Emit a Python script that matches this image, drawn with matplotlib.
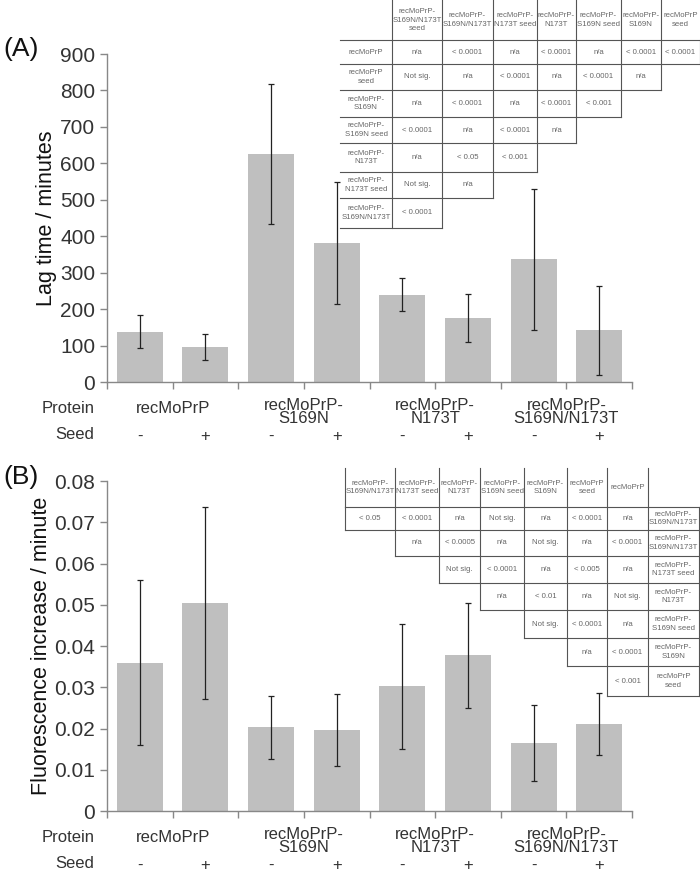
import numpy as np
import matplotlib
matplotlib.use("Agg")
import matplotlib.pyplot as plt
from matplotlib.lines import Line2D
from matplotlib.transforms import blended_transform_factory

plt.rcParams['font.family'] = ['Liberation Sans', 'DejaVu Sans']

# data
proteins = ["recMoPrP", "recMoPrP-\nS169N", "recMoPrP-\nN173T", "recMoPrP-\nS169N/N173T"]
seeds = ["-", "+", "-", "+", "-", "+", "-", "+"]

lag_mean = [138, 97, 625, 382, 240, 176, 337, 142]
lag_err = [46, 36, 192, 167, 46, 66, 193, 122]

fluor_mean = [0.0360, 0.0504, 0.0203, 0.0196, 0.0302, 0.0377, 0.0165, 0.0210]
fluor_err = [0.0200, 0.0232, 0.0077, 0.0087, 0.0152, 0.0128, 0.0093, 0.0075]

# p-value tables
tab_a_cols = ["recMoPrP-\nS169N/N173T\nseed", "recMoPrP-\nS169N/N173T", "recMoPrP-\nN173T seed",
              "recMoPrP-\nN173T", "recMoPrP-\nS169N seed", "recMoPrP-\nS169N", "recMoPrP\nseed"]
tab_a_rows = ["recMoPrP", "recMoPrP\nseed", "recMoPrP-\nS169N", "recMoPrP-\nS169N seed",
              "recMoPrP-\nN173T", "recMoPrP-\nN173T seed", "recMoPrP-\nS169N/N173T"]
tab_a_vals = [
    ["n/a", "< 0.0001", "n/a", "< 0.0001", "n/a", "< 0.0001", "< 0.0001"],
    ["Not sig.", "n/a", "< 0.0001", "n/a", "< 0.0001", "n/a"],
    ["n/a", "< 0.0001", "n/a", "< 0.0001", "< 0.001"],
    ["< 0.0001", "n/a", "< 0.0001", "n/a"],
    ["n/a", "< 0.05", "< 0.001"],
    ["Not sig.", "n/a"],
    ["< 0.0001"],
]

tab_b_cols = ["recMoPrP-\nS169N/N173T", "recMoPrP-\nN173T seed", "recMoPrP-\nN173T",
              "recMoPrP-\nS169N seed", "recMoPrP-\nS169N", "recMoPrP\nseed", "recMoPrP"]
tab_b_rows = ["recMoPrP-\nS169N/N173T", "recMoPrP-\nS169N/N173T", "recMoPrP-\nN173T seed",
              "recMoPrP-\nN173T", "recMoPrP-\nS169N seed", "recMoPrP-\nS169N", "recMoPrP\nseed"]
tab_b_vals = [
    ["< 0.05", "< 0.0001", "n/a", "Not sig.", "n/a", "< 0.0001", "n/a"],
    ["n/a", "< 0.0005", "n/a", "Not sig.", "n/a", "< 0.0001"],
    ["Not sig.", "< 0.0001", "n/a", "< 0.005", "n/a"],
    ["n/a", "< 0.01", "n/a", "Not sig."],
    ["Not sig.", "< 0.0001", "n/a"],
    ["n/a", "< 0.0001"],
    ["< 0.001"],
]

W, H = 700, 871
fig = plt.figure(figsize=(W / 100, H / 100), dpi=100)

txt_col = '#333333'
spine_col = '#888888'


def px(x, y):
    return x / W, 1 - y / H


def draw_panel(rect, means, errs, ymax, ystep, ylabel, yfmt, letter, letter_y):
    ax = fig.add_axes(rect)
    x = np.arange(len(means))
    ax.bar(x, means, width=0.7, color='#bfbfbf', zorder=2)
    ax.errorbar(x, means, yerr=errs, fmt='none', ecolor='#222222', elinewidth=0.9,
                capsize=2, capthick=0.9, zorder=3)
    ax.set_xlim(-0.5, len(means) - 0.5)
    ax.set_ylim(0, ymax)
    ticks = np.arange(0, ymax + ystep / 2, ystep)
    ax.set_yticks(ticks)
    ax.set_yticklabels([yfmt(v) for v in ticks])
    ax.set_xticks(np.arange(-0.5, len(means), 1.0))
    ax.set_xticklabels([])
    for s in ['top', 'right']:
        ax.spines[s].set_visible(False)
    for s in ['left', 'bottom']:
        ax.spines[s].set_color(spine_col)
        ax.spines[s].set_linewidth(1.0)
    ax.tick_params(axis='both', colors=spine_col, length=5, width=1.0,
                   labelcolor=txt_col, labelsize=15)
    ax.set_ylabel(ylabel, fontsize=15.5, color='#111111', labelpad=2)
    tr = blended_transform_factory(ax.transData, ax.transAxes)
    # protein / seed rows under the axis
    ax.annotate("Protein", xy=(0, 0), xycoords='axes fraction', xytext=(-9, -19),
                textcoords='offset points', ha='right', va='center', fontsize=12, color=txt_col)
    ax.annotate("Seed", xy=(0, 0), xycoords='axes fraction', xytext=(-9, -38),
                textcoords='offset points', ha='right', va='center', fontsize=12, color=txt_col)
    for i, name in enumerate(proteins):
        off = -19 if "\n" not in name else -21.5
        ax.annotate(name, xy=(2 * i + 0.5, 0), xycoords=tr, xytext=(0, off),
                    textcoords='offset points', ha='center', va='center', fontsize=12,
                    color=txt_col, linespacing=0.85)
    for i, s in enumerate(seeds):
        ax.annotate(s, xy=(i, 0), xycoords=tr, xytext=(0, -39),
                    textcoords='offset points', ha='center', va='center', fontsize=12,
                    color=txt_col)
    fig.text(*px(3, letter_y), letter, fontsize=19, color='#111111', ha='left', va='center')
    return ax


def hline(x0, x1, y):
    a, b = px(x0, y)
    c, d = px(x1, y)
    fig.add_artist(Line2D([a, c], [b, d], color='#555555', lw=0.8))


def vline(x, y0, y1):
    a, b = px(x, y0)
    c, d = px(x, y1)
    fig.add_artist(Line2D([a, c], [b, d], color='#555555', lw=0.8))


def cell_text(x0, x1, y0, y1, s):
    cx, cy = px((x0 + x1) / 2, (y0 + y1) / 2)
    fig.text(cx, cy, s, fontsize=5.6, color='#666666', ha='center', va='center',
             linespacing=1.3)


draw_panel([107 / W, 1 - 382 / H, 525 / W, 328 / H], lag_mean, lag_err, 900, 100,
           "Lag time / minutes", lambda v: f"{int(round(v))}", "(A)", 49)
draw_panel([107 / W, 1 - 811 / H, 525 / W, 330 / H], fluor_mean, fluor_err, 0.08, 0.01,
           "Fluorescence increase / minute",
           lambda v: "0" if abs(v) < 1e-9 else f"{v:.2f}", "(B)", 477)

# table A: triangle, row labels on the left
cols_a = [340, 392, 442, 493, 537, 576, 621, 661, 699.5]
rows_a = [0, 40, 64, 90, 117, 143, 172, 198, 228]
for j, s in enumerate(tab_a_cols):
    cell_text(cols_a[j + 1], cols_a[j + 2], rows_a[0], rows_a[1], s)
    vline(cols_a[j + 1], rows_a[0], rows_a[1])
hline(cols_a[0], cols_a[-1], rows_a[1])
for i, lab in enumerate(tab_a_rows):
    y0, y1 = rows_a[i + 1], rows_a[i + 2]
    cell_text(cols_a[0], cols_a[1], y0, y1, lab)
    n = len(tab_a_vals[i])
    for j, v in enumerate(tab_a_vals[i]):
        cell_text(cols_a[j + 1], cols_a[j + 2], y0, y1, v)
    for k in range(1, n + 2):
        vline(cols_a[k], y0, y1)
    hline(cols_a[0], cols_a[n + 1], y1)

# table B: triangle, row labels on the right
cols_b = [345, 395, 439, 480, 524, 567, 607, 648, 699]
rows_b = [468, 507, 530, 556, 583, 610, 638, 666, 696]
for j, s in enumerate(tab_b_cols):
    cell_text(cols_b[j], cols_b[j + 1], rows_b[0], rows_b[1], s)
for k in range(0, 8):
    vline(cols_b[k], rows_b[0], rows_b[1])
hline(cols_b[0], cols_b[-1], rows_b[1])
for i, lab in enumerate(tab_b_rows):
    y0, y1 = rows_b[i + 1], rows_b[i + 2]
    cell_text(cols_b[7], cols_b[8], y0, y1, lab)
    for j, v in enumerate(tab_b_vals[i]):
        cell_text(cols_b[i + j], cols_b[i + j + 1], y0, y1, v)
    for k in range(i, 9):
        vline(cols_b[k], y0, y1)
    hline(cols_b[i], cols_b[-1], y1)

fig.savefig("out.png", dpi=100)
